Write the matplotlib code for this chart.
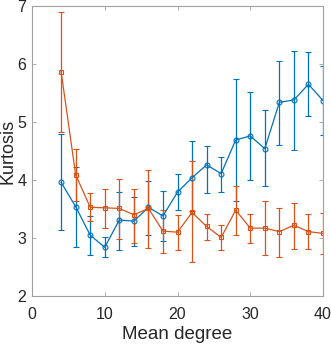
import matplotlib
matplotlib.use("Agg")
import matplotlib.pyplot as plt
import numpy as np

plt.rcParams['font.family'] = ['Liberation Sans', 'DejaVu Sans']

mean_degree = [4, 6, 8, 10, 12, 14, 16, 18, 20, 22, 24, 26, 28, 30, 32, 34, 36, 38, 40]

blue_val = [3.96, 3.54, 3.05, 2.84, 3.31, 3.29, 3.53, 3.38, 3.79, 4.04, 4.26, 4.11, 4.69, 4.76, 4.54, 5.34, 5.38, 5.65, 5.37]
blue_top = [4.80, 4.23, 3.38, 3.01, 3.80, 3.70, 3.99, 3.81, 4.11, 4.67, 4.59, 4.40, 5.74, 5.51, 5.20, 6.05, 6.23, 6.20, 5.96]
blue_bot = [3.14, 2.84, 2.71, 2.67, 2.80, 2.86, 3.06, 2.95, 3.48, 3.47, 3.78, 3.79, 3.64, 4.00, 3.90, 4.61, 4.52, 5.10, 4.77]

orange_val = [5.87, 4.09, 3.53, 3.52, 3.51, 3.40, 3.51, 3.12, 3.10, 3.44, 3.20, 3.01, 3.48, 3.17, 3.17, 3.11, 3.22, 3.11, 3.08]
orange_top = [6.89, 4.53, 3.78, 3.84, 4.02, 3.85, 4.18, 3.49, 3.40, 4.32, 3.42, 3.22, 3.90, 3.41, 3.63, 3.51, 3.61, 3.41, 3.43]
orange_bot = [4.83, 3.63, 3.29, 3.18, 2.98, 2.91, 2.83, 2.74, 2.79, 2.59, 2.97, 2.80, 3.06, 2.92, 2.70, 2.68, 2.81, 2.81, 2.72]

x_ticks = [0, 10, 20, 30, 40]
y_ticks = [2, 3, 4, 5, 6, 7]

fig = plt.figure(figsize=(3.31, 3.44), dpi=100)
ax = fig.add_axes([32/331, 48/344, 291/331, 290/344])

def draw(vals, top, bot, color, marker):
    vals = np.array(vals); top = np.array(top); bot = np.array(bot)
    yerr = np.vstack([vals - bot, top - vals])
    ax.errorbar(mean_degree, vals, yerr=yerr, color=color, lw=0.9,
                elinewidth=0.9, capsize=2.2, capthick=0.9, marker=marker,
                markersize=3.5, markerfacecolor='none', markeredgewidth=0.8)

draw(blue_val, blue_top, blue_bot, '#0072BD', 'o')
draw(orange_val, orange_top, orange_bot, '#D95319', 's')

ax.set_xlim(0, 40)
ax.set_ylim(2, 7)
ax.set_xticks(x_ticks)
ax.set_yticks(y_ticks)
ax.tick_params(direction='in', top=True, right=True, length=3, width=0.6,
               colors='#a0a0a0', labelcolor='#262626', labelsize=11.5)
ax.tick_params(axis='x', pad=8)
ax.tick_params(axis='y', pad=4)
for s in ax.spines.values():
    s.set_color('#a0a0a0')
    s.set_linewidth(0.8)
ax.set_xlabel('Mean degree', fontsize=13.5, color='#262626', labelpad=3)
ax.set_ylabel('Kurtosis', fontsize=13, color='#262626')
ax.yaxis.set_label_coords(-0.052, 0.5)

fig.savefig('out.png', dpi=100)
